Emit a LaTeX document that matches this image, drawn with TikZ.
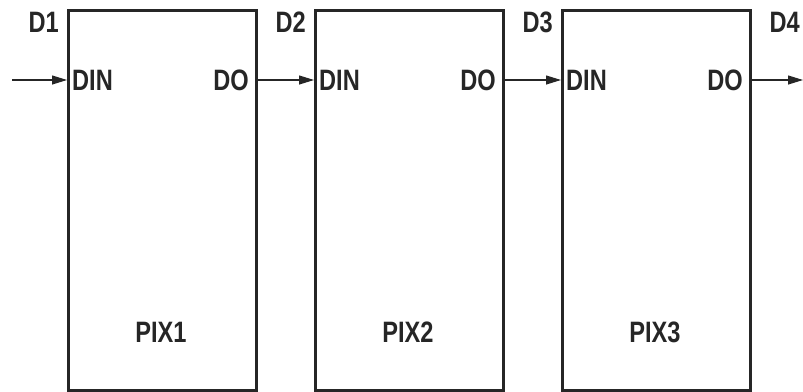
\documentclass[tikz,border=0pt]{standalone}
\usepackage{fontspec}
\setmainfont{Liberation Sans}[FakeStretch=0.8]
\usetikzlibrary{arrows.meta}
\begin{document}
\begin{tikzpicture}[x=1pt,y=-1pt,
  pixbox/.style={draw=black!85,line width=2.5pt,minimum width=188pt,minimum height=380pt,inner sep=0pt,anchor=north west},
  lbl/.style={font=\fontsize{29.5}{29.5}\selectfont\bfseries,text=black!85,inner sep=0pt},
  conn/.style={draw=black!85,line width=1.1pt,-{Triangle[length=15pt,width=9pt]}}]
\useasboundingbox (0,0) rectangle (803,391);
\node[pixbox] (b1) at (67,9) {};
\node[pixbox] (b2) at (314,9) {};
\node[pixbox] (b3) at (561,9) {};
\node[lbl,anchor=base] (p1) at (161,342) {PIX1};
\node[lbl,anchor=base] (p2) at (408,342) {PIX2};
\node[lbl,anchor=base] (p3) at (655,342) {PIX3};
\node[lbl,anchor=base west] (din1) at (72,90) {DIN};
\node[lbl,anchor=base west] (din2) at (319,90) {DIN};
\node[lbl,anchor=base west] (din3) at (566,90) {DIN};
\node[lbl,anchor=base east] (do1) at (249,90) {DO};
\node[lbl,anchor=base east] (do2) at (496,90) {DO};
\node[lbl,anchor=base east] (do3) at (743,90) {DO};
\node[lbl,anchor=base east] (d1) at (59,32) {D1};
\node[lbl,anchor=base east] (d2) at (306,32) {D2};
\node[lbl,anchor=base east] (d3) at (553,32) {D3};
\node[lbl,anchor=base east] (d4) at (800,32) {D4};
\coordinate (in) at (12,80);
\coordinate (out) at (803,80);
\draw[conn] (in) -- (in -| b1.west);
\draw[conn] (b1.east |- 0,80) -- (b2.west |- 0,80);
\draw[conn] (b2.east |- 0,80) -- (b3.west |- 0,80);
\draw[conn] (b3.east |- 0,80) -- (out);
\end{tikzpicture}
\end{document}
